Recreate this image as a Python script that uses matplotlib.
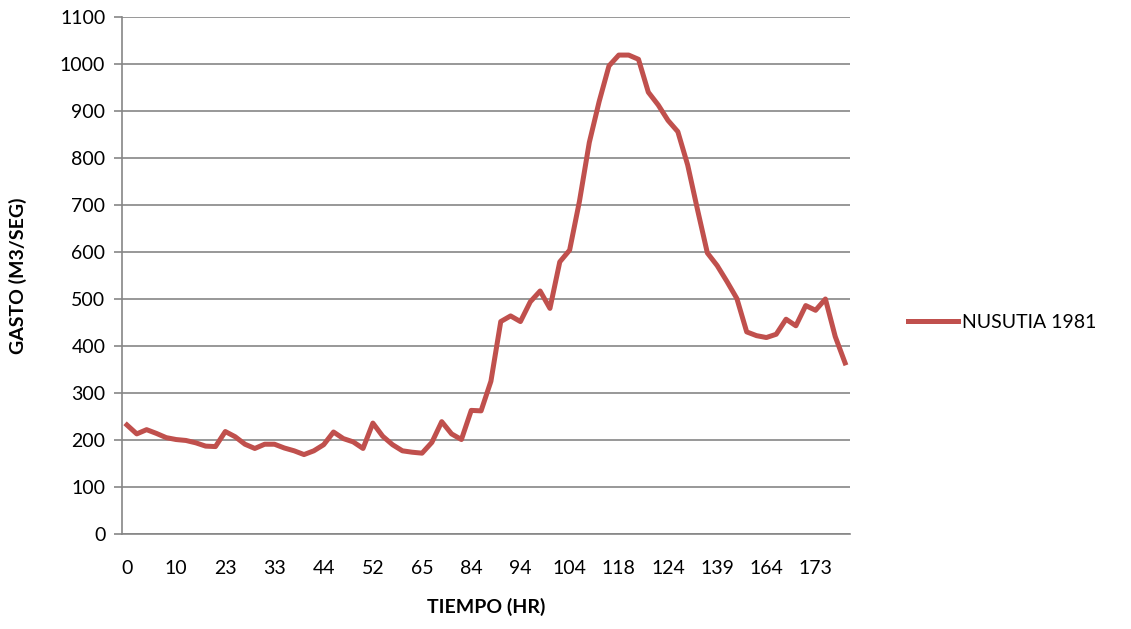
import matplotlib
matplotlib.use("Agg")
import matplotlib.pyplot as plt

# hourly discharge, one value per category on the axis
gasto = [232, 213, 222, 214, 205, 201, 199, 194, 187, 186,
         218, 207, 191, 182, 191, 191, 183, 177, 169, 177,
         190, 217, 203, 196, 182, 236, 208, 190, 177, 174,
         172, 195, 239, 213, 201, 263, 262, 325, 452, 464,
         452, 494, 517, 480, 579, 604, 708, 833, 920, 996,
         1019, 1019, 1010, 940, 913, 880, 856, 785, 690, 598,
         571, 537, 501, 430, 422, 418, 425, 457, 443, 486,
         476, 500, 420, 364]
tick_labels = ["0", "10", "23", "33", "44", "52", "65", "84", "94",
               "104", "118", "124", "139", "164", "173"]
serie = "NUSUTIA 1981"

plt.rcParams.update({
    "font.family": ["Lato", "DejaVu Sans"],
    "font.size": 14,
})

fig = plt.figure(figsize=(11.31, 6.29), dpi=100)
ax = fig.add_axes([122 / 1131, 1 - 534 / 629, 728 / 1131, 517 / 629])

x = list(range(len(gasto)))
ax.plot(x, gasto, color="#C0504D", linewidth=3.6, solid_joinstyle="round",
        label=serie)

ax.set_xlim(-0.5, len(gasto) - 0.5)
ax.set_ylim(0, 1100)
ax.set_yticks(range(0, 1101, 100))
ax.set_xticks(range(0, 5 * len(tick_labels), 5))
ax.set_xticklabels(tick_labels)

ax.grid(axis="y", color="#868686", linewidth=1.2)
ax.set_axisbelow(True)
for side in ("top", "right"):
    ax.spines[side].set_visible(False)
for side in ("left", "bottom"):
    ax.spines[side].set_color("#868686")
    ax.spines[side].set_linewidth(1.2)
ax.tick_params(axis="y", length=6, width=1.2, color="#868686", pad=6)
ax.tick_params(axis="x", length=0, pad=19)

ax.set_xlabel("TIEMPO (HR)", fontweight="bold", fontsize=14, labelpad=15)
ax.set_ylabel("GASTO (M3/SEG)", fontweight="bold", fontsize=14, labelpad=24)

fig.legend(loc="center left", bbox_to_anchor=(890 / 1131, 1 - 322 / 629),
           frameon=False, handlelength=2.6, handletextpad=0.2, fontsize=14)

fig.savefig("out.png", dpi=100, facecolor="white")
